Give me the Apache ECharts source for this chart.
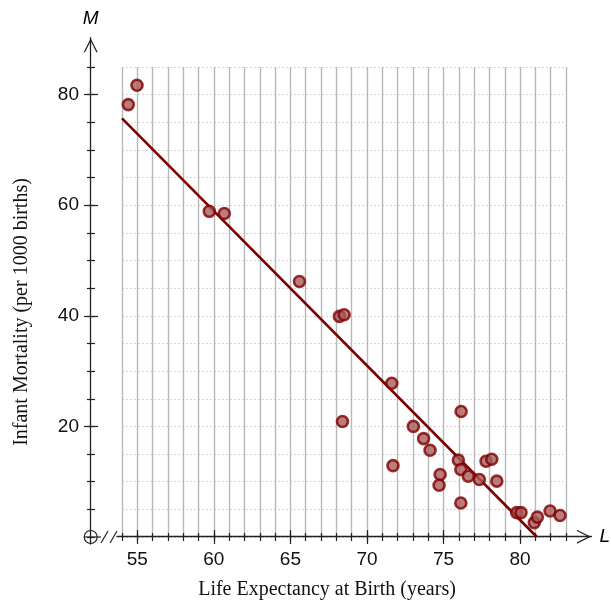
<!DOCTYPE html>
<html>
<head>
<meta charset="utf-8">
<script src="https://cdn.jsdelivr.net/npm/echarts@6/dist/echarts.min.js"></script>
<style>
  html, body { margin: 0; padding: 0; background: #fff; }
  #chart { width: 611px; height: 607px; }
</style>
</head>
<body>
<div id="chart"></div>
<script>
// life expectancy (years) and infant mortality (per 1000 births)
const lifeExp = [54.41, 54.98, 59.7, 60.68, 65.59, 68.2, 68.51, 68.4, 71.62, 71.7,
  73.03, 73.7, 74.12, 74.78, 74.71, 76.15, 75.97, 76.13, 76.62, 77.34,
  77.78, 78.15, 78.48, 76.13, 79.78, 80.06, 80.93, 81.13, 81.96, 82.61];
const mortality = [78.2, 81.7, 58.9, 58.5, 46.2, 39.9, 40.2, 20.9, 27.8, 12.9,
  20.0, 17.8, 15.7, 11.3, 9.35, 22.7, 13.9, 12.2, 11.0, 10.4,
  13.7, 14.05, 10.1, 6.15, 4.4, 4.4, 2.6, 3.6, 4.7, 3.9];
// least squares line end points
const fitX = [54, 81.1];
const fitY = [75.7, 0];
const xLabels = [55, 60, 65, 70, 75, 80];
const yLabels = [20, 40, 60, 80];

const chevron = 'path://M50,0 L100,100 L90,100 L50,20 L10,100 L0,100 Z';
const tickColor = '#222';

const mainX = (extra) => Object.assign({
  type: 'value', gridIndex: 0, position: 'bottom', min: 54, max: 83, interval: 1,
  axisLine: { show: false, onZero: false }, splitLine: { show: false },
  axisLabel: { show: false }, axisTick: { show: false }
}, extra);
const mainY = (extra) => Object.assign({
  type: 'value', gridIndex: 0, position: 'left', min: 0, max: 85, interval: 5, offset: 31,
  axisLine: { show: false, onZero: false }, splitLine: { show: false },
  axisLabel: { show: false }, axisTick: { show: false }
}, extra);

const chart = echarts.init(document.getElementById('chart'));
chart.setOption({
  animation: false,
  grid: [
    { left: 122, right: 45, top: 67, bottom: 70 },
    { left: 90.7, width: 10, top: 37.7, bottom: 63 },
    { left: 117, right: 14, top: 500, bottom: 70.3 }
  ],
  xAxis: [
    mainX({
      splitLine: { show: true, lineStyle: { color: '#b8b8b8', width: 1.4 } },
      axisTick: { show: true, length: 4, lineStyle: { color: tickColor, width: 1.2 } },
      axisLabel: { show: true, customValues: xLabels, fontSize: 19, color: '#111',
        fontFamily: 'Liberation Sans', margin: 13 }
    }),
    mainX({ axisTick: { show: true, inside: true, length: 4, lineStyle: { color: tickColor, width: 1.2 } } }),
    mainX({ axisTick: { show: true, customValues: xLabels, length: 7, lineStyle: { color: tickColor, width: 1.2 } } }),
    mainX({ axisTick: { show: true, inside: true, customValues: xLabels, length: 7, lineStyle: { color: tickColor, width: 1.2 } } }),
    { type: 'value', gridIndex: 1, min: 0, max: 1, show: false },
    {
      type: 'value', gridIndex: 2, position: 'bottom', min: 0, max: 1,
      axisLine: { show: true, onZero: false, symbol: ['none', chevron], symbolSize: [14, 15], symbolOffset: [0, -7.5],
        lineStyle: { color: '#222', width: 1.3 } },
      axisTick: { show: false }, axisLabel: { show: false }, splitLine: { show: false },
      name: 'L', nameLocation: 'end', nameGap: 8,
      nameTextStyle: { fontSize: 19, fontStyle: 'italic', fontFamily: 'Liberation Sans', color: '#000' }
    }
  ],
  yAxis: [
    mainY({
      splitLine: { show: true, lineStyle: { color: '#d4d4d4', type: [2, 2], width: 1 } },
      axisTick: { show: true, length: 4, lineStyle: { color: tickColor, width: 1.2 } },
      axisLabel: { show: true, customValues: yLabels, fontSize: 19, color: '#111',
        fontFamily: 'Liberation Sans', margin: 12 }
    }),
    mainY({ axisTick: { show: true, inside: true, length: 4, lineStyle: { color: tickColor, width: 1.2 } } }),
    mainY({ axisTick: { show: true, customValues: yLabels, length: 7, lineStyle: { color: tickColor, width: 1.2 } } }),
    mainY({ axisTick: { show: true, inside: true, customValues: yLabels, length: 7, lineStyle: { color: tickColor, width: 1.2 } } }),
    {
      type: 'value', gridIndex: 1, position: 'left', min: 0, max: 1,
      axisLine: { show: true, onZero: false, symbol: ['none', chevron], symbolSize: [14, 15], symbolOffset: [0, -7.5],
        lineStyle: { color: '#222', width: 1.3 } },
      axisTick: { show: false }, axisLabel: { show: false }, splitLine: { show: false },
      name: 'M', nameLocation: 'end', nameGap: 9,
      nameTextStyle: { fontSize: 19, fontStyle: 'italic', fontFamily: 'Liberation Sans', color: '#000' }
    },
    { type: 'value', gridIndex: 2, min: 0, max: 1, show: false }
  ],
  graphic: [
    { type: 'circle', shape: { cx: 90.7, cy: 537, r: 6.5 },
      style: { fill: 'none', stroke: '#222', lineWidth: 1.2 } },
    { type: 'line', shape: { x1: 84, y1: 537, x2: 101, y2: 537 },
      style: { stroke: '#222', lineWidth: 1.2 } },
    { type: 'line', shape: { x1: 101, y1: 543, x2: 108, y2: 531 },
      style: { stroke: '#222', lineWidth: 1.2 } },
    { type: 'line', shape: { x1: 110, y1: 543, x2: 117, y2: 531 },
      style: { stroke: '#222', lineWidth: 1.2 } },
    { type: 'text', x: 327, y: 590,
      style: { text: 'Life Expectancy at Birth (years)', font: '20px "Liberation Serif"',
        fill: '#111', align: 'center', verticalAlign: 'middle' } },
    { type: 'text', x: 22, y: 312, rotation: Math.PI / 2,
      style: { text: 'Infant Mortality (per 1000 births)', font: '20px "Liberation Serif"',
        fill: '#111', align: 'center', verticalAlign: 'middle' } }
  ],
  series: [
    {
      type: 'line', xAxisIndex: 0, yAxisIndex: 0, symbol: 'none',
      data: fitX.map((x, i) => [x, fitY[i]]),
      lineStyle: { color: '#7a0000', width: 2.6 }, z: 3
    },
    {
      type: 'scatter', xAxisIndex: 0, yAxisIndex: 0, symbolSize: 11,
      data: lifeExp.map((x, i) => [x, mortality[i]]),
      itemStyle: { color: '#a95b5b', borderColor: '#7e0000', borderWidth: 2.6 }, z: 4
    }
  ]
});
</script>
</body>
</html>
